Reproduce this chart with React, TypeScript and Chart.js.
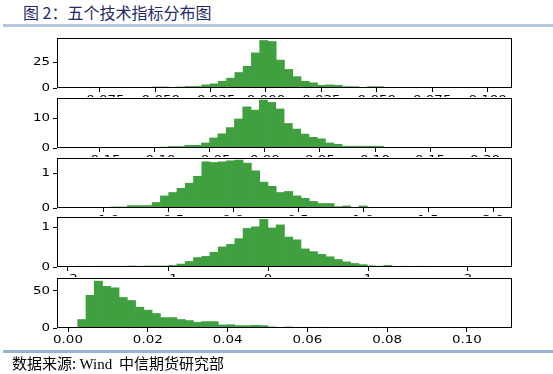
import React, { useEffect, useRef } from 'react';
import { Chart, registerables } from 'chart.js';
Chart.register(...registerables);

const BAR_COLOR = '#40a040';
const MINUS = '\u2212';

// ---- Panel 1 ----
const p1BinStart = -0.08497;
const p1BinWidth = 0.003732;
const p1Values = [
  0, 0, 0, 0, 0, 0, 0, 0, 0,
  1, 1, 0, 1, 1.5, 1.5, 3, 4, 6.5, 9.5, 15, 21, 34, 46, 45, 27, 18, 11, 6.5, 5, 2.6, 3, 2.6, 1.3, 1.3, 0.3, 1.3, 1.3,
  0, 0, 0, 0, 0, 0, 0, 0, 0, 0, 0, 0, 0,
];
const p1XRange = [-0.0943, 0.111];
const p1YMax = 48.4;
const p1XTicks = [-0.075, -0.05, -0.025, 0, 0.025, 0.05, 0.075, 0.1];
const p1XLabels = [MINUS + '0.075', MINUS + '0.050', MINUS + '0.025', '0.000', '0.025', '0.050', '0.075', '0.100'];
const p1YTicks = [0, 25];
const p1YLabels = ['0', '25'];

// ---- Panel 2 ----
const p2BinStart = -0.1706;
const p2BinWidth = 0.00752;
const p2Values = [
  0, 0, 0, 0, 0,
  0.2, 0.2, 0, 0.2, 0.2, 0.3, 0.5, 0.5, 0.9, 0.9, 1.7, 3.4, 4.8, 6.9, 9.8, 13.9, 12.8, 16.2, 15.4, 13.2,
  8.3, 6.4, 4.7, 3.6, 3.1, 1.7, 1.25, 0.6, 0.6, 0.6, 0.6, 0.6, 0.2, 0.2, 0.2, 0, 0.2,
  0, 0, 0, 0, 0, 0, 0, 0,
];
const p2XRange = [-0.189, 0.2245];
const p2YMax = 16.9;
const p2XTicks = [-0.15, -0.1, -0.05, 0, 0.05, 0.1, 0.15, 0.2];
const p2XLabels = [MINUS + '0.15', MINUS + '0.10', MINUS + '0.05', '0.00', '0.05', '0.10', '0.15', '0.20'];
const p2YTicks = [0, 10];
const p2YLabels = ['0', '10'];

// ---- Panel 3 ----
const p3BinStart = -1.1946;
const p3BinWidth = 0.06362;
const p3Values = [
  0, 0, 0, 0,
  0.03, 0.03, 0.07, 0.07, 0.07, 0.16, 0.35, 0.45, 0.57, 0.72, 0.92, 1.34, 1.32, 1.34, 1.37, 1.39, 1.3, 1.08,
  0.75, 0.63, 0.45, 0.48, 0.35, 0.28, 0.19, 0.13, 0.13, 0.04, 0.06, 0, 0.06,
  0, 0, 0, 0, 0, 0, 0, 0, 0, 0, 0, 0, 0, 0, 0,
];
const p3XRange = [-1.354, 2.146];
const p3YMax = 1.45;
const p3XTicks = [-1, -0.5, 0, 0.5, 1, 1.5, 2];
const p3XLabels = [MINUS + '1.0', MINUS + '0.5', '0.0', '0.5', '1.0', '1.5', '2.0'];
const p3YTicks = [0, 1];
const p3YLabels = ['0', '1'];

// ---- Panel 4 ----
const p4BinStart = -1.903;
const p4BinWidth = 0.0827;
const p4Values = [
  0.02, 0, 0.02, 0.02, 0.02, 0.02, 0.025, 0.02, 0.025, 0.025,
  0.025, 0.04, 0.075, 0.14, 0.24, 0.27, 0.375, 0.51, 0.575, 0.72,
  0.98, 1.02, 1.21, 0.99, 1.07, 0.76, 0.69, 0.46, 0.39, 0.32,
  0.26, 0.19, 0.13, 0.09, 0.06, 0.03, 0.02, 0.04, 0.01, 0.02,
  0.01, 0.02, 0.01, 0.01, 0.01, 0.01, 0.01, 0, 0, 0.01,
];
const p4XRange = [-2.11, 2.44];
const p4YMax = 1.27;
const p4XTicks = [-2, -1, 0, 1, 2];
const p4XLabels = [MINUS + '2', MINUS + '1', '0', '1', '2'];
const p4YTicks = [0, 1];
const p4YLabels = ['0', '1'];

// ---- Panel 5 ----
const p5BinStart = 0.00243;
const p5BinWidth = 0.002073;
const p5Values = [
  11.4, 44, 63, 56, 54, 41, 37, 28, 24, 19.5, 14, 14, 11.4, 10, 7.7, 8.6, 8.6, 4.1, 4.5, 3.2,
  3.2, 3.6, 3.2, 1.4, 0.5, 1.4, 0.5, 1.0, 0.3, 1.0, 0.3, 0.8, 0.3, 0.8, 0.3, 0.5,
  0, 0, 0, 0, 0, 0, 0, 0, 0, 0, 0, 0, 0, 0,
];
const p5XRange = [-0.00276, 0.1113];
const p5YMax = 67.2;
const p5XTicks = [0, 0.02, 0.04, 0.06, 0.08, 0.1];
const p5XLabels = ['0.00', '0.02', '0.04', '0.06', '0.08', '0.10'];
const p5YTicks = [0, 50];
const p5YLabels = ['0', '50'];

const panels = [
  { binStart: p1BinStart, binWidth: p1BinWidth, values: p1Values, xRange: p1XRange, yMax: p1YMax, xTicks: p1XTicks, xLabels: p1XLabels, yTicks: p1YTicks, yLabels: p1YLabels },
  { binStart: p2BinStart, binWidth: p2BinWidth, values: p2Values, xRange: p2XRange, yMax: p2YMax, xTicks: p2XTicks, xLabels: p2XLabels, yTicks: p2YTicks, yLabels: p2YLabels },
  { binStart: p3BinStart, binWidth: p3BinWidth, values: p3Values, xRange: p3XRange, yMax: p3YMax, xTicks: p3XTicks, xLabels: p3XLabels, yTicks: p3YTicks, yLabels: p3YLabels },
  { binStart: p4BinStart, binWidth: p4BinWidth, values: p4Values, xRange: p4XRange, yMax: p4YMax, xTicks: p4XTicks, xLabels: p4XLabels, yTicks: p4YTicks, yLabels: p4YLabels },
  { binStart: p5BinStart, binWidth: p5BinWidth, values: p5Values, xRange: p5XRange, yMax: p5YMax, xTicks: p5XTicks, xLabels: p5XLabels, yTicks: p5YTicks, yLabels: p5YLabels },
];

// layout (page pixels)
const PANEL_TOPS = [38, 98, 158, 217, 278];
const PANEL_H = 50;
const AXIS_LEFT = 57;
const AXIS_RIGHT = 512;
const W = 553;
const TEXT_STRETCH = 1.22; // the source figure is horizontally stretched

const framePlugin = {
  id: 'frame',
  afterDatasetsDraw(chart: any) {
    const { ctx, chartArea } = chart;
    const l = Math.round(chartArea.left);
    const t = Math.round(chartArea.top);
    const r = Math.round(chartArea.right);
    const b = Math.round(chartArea.bottom);
    ctx.save();
    ctx.strokeStyle = '#000';
    ctx.lineWidth = 1;
    ctx.strokeRect(l + 0.5, t + 0.5, r - l - 1, b - t - 1);
    ctx.restore();
  },
};

function Panel({ idx }: { idx: number }) {
  const ref = useRef<HTMLCanvasElement>(null);
  const cfg = panels[idx];
  const top = PANEL_TOPS[idx] - 1;
  const height = idx < 4 ? PANEL_TOPS[idx + 1] - PANEL_TOPS[idx] : 75;
  const xAxisH = height - 1 - PANEL_H;

  useEffect(() => {
    const canvas = ref.current;
    if (!canvas) return;
    const ctx2d: any = canvas.getContext('2d');
    if (ctx2d && !ctx2d.__stretched) {
      const orig = ctx2d.fillText.bind(ctx2d);
      ctx2d.fillText = (text: string, x: number, y: number, maxWidth?: number) => {
        ctx2d.save();
        ctx2d.translate(x, y);
        ctx2d.scale(TEXT_STRETCH, 1);
        if (maxWidth !== undefined) orig(text, 0, 0, maxWidth / TEXT_STRETCH);
        else orig(text, 0, 0);
        ctx2d.restore();
      };
      ctx2d.__stretched = true;
    }
    const data = cfg.values.map((v, i) => ({ x: cfg.binStart + (i + 0.5) * cfg.binWidth, y: v }));
    const tickFont = { family: 'DejaVu Sans', size: 11 };
    const chart = new Chart(canvas, {
      type: 'bar',
      data: {
        datasets: [
          {
            data,
            backgroundColor: BAR_COLOR,
            borderWidth: 0,
            barPercentage: 1,
            categoryPercentage: 1,
          } as any,
        ],
      },
      options: {
        animation: false,
        responsive: false,
        devicePixelRatio: 1,
        layout: { padding: { top: 1, left: 0, right: W - AXIS_RIGHT, bottom: 0 } },
        plugins: { legend: { display: false }, tooltip: { enabled: false } },
        scales: {
          x: {
            type: 'linear',
            min: cfg.xRange[0],
            max: cfg.xRange[1],
            offset: false,
            grid: { display: true, drawOnChartArea: false, drawTicks: true, tickLength: 4, color: '#000', offset: false } as any,
            border: { display: false },
            afterBuildTicks: (s: any) => {
              s.ticks = cfg.xTicks.map((v) => ({ value: v }));
            },
            afterFit: (s: any) => {
              s.height = xAxisH;
              s.paddingLeft = 0;
              s.paddingRight = 0;
            },
            ticks: {
              autoSkip: false,
              maxRotation: 0,
              minRotation: 0,
              padding: 2,
              color: '#000',
              font: tickFont,
              callback: (_v: any, i: number) => cfg.xLabels[i],
            },
          },
          y: {
            type: 'linear',
            min: 0,
            max: cfg.yMax,
            grid: { display: true, drawOnChartArea: false, drawTicks: true, tickLength: 4, color: '#000' },
            border: { display: false },
            afterBuildTicks: (s: any) => {
              s.ticks = cfg.yTicks.map((v) => ({ value: v }));
            },
            afterFit: (s: any) => {
              s.width = AXIS_LEFT;
              s.paddingTop = 0;
              s.paddingBottom = 0;
            },
            ticks: {
              padding: 3,
              color: '#000',
              font: tickFont,
              callback: (_v: any, i: number) => cfg.yLabels[i],
            },
          },
        },
      } as any,
      plugins: [framePlugin],
    });
    return () => chart.destroy();
  }, []);

  return (
    <canvas
      ref={ref}
      width={W}
      height={height}
      style={{ position: 'absolute', left: 0, top, width: W, height, display: 'block' }}
    />
  );
}

export default function App() {
  return (
    <div style={{ position: 'absolute', left: 0, top: 0, width: W, height: 374, overflow: 'hidden', background: '#fff' }}>
      <div
        style={{
          position: 'absolute',
          left: 23,
          top: 3,
          fontFamily: '"Noto Sans CJK SC", sans-serif',
          fontSize: 16,
          lineHeight: '18px',
          color: '#1f2a6b',
          whiteSpace: 'nowrap',
        }}
      >
        图 2：五个技术指标分布图
      </div>
      <div style={{ position: 'absolute', left: 3, top: 24, width: 550, height: 3, background: '#b4c7de' }} />
      {panels.map((_, i) => (
        <Panel key={i} idx={i} />
      ))}
      <div style={{ position: 'absolute', left: 3, top: 350, width: 550, height: 3, background: '#95b3d7' }} />
      <div
        style={{
          position: 'absolute',
          left: 12,
          top: 354,
          fontFamily: '"Noto Sans CJK SC", sans-serif',
          fontSize: 15,
          lineHeight: '18px',
          color: '#000',
          whiteSpace: 'nowrap',
        }}
      >
        数据来源: <span style={{ fontFamily: '"Liberation Serif", serif' }}>Wind</span>&nbsp; 中信期货研究部
      </div>
    </div>
  );
}
